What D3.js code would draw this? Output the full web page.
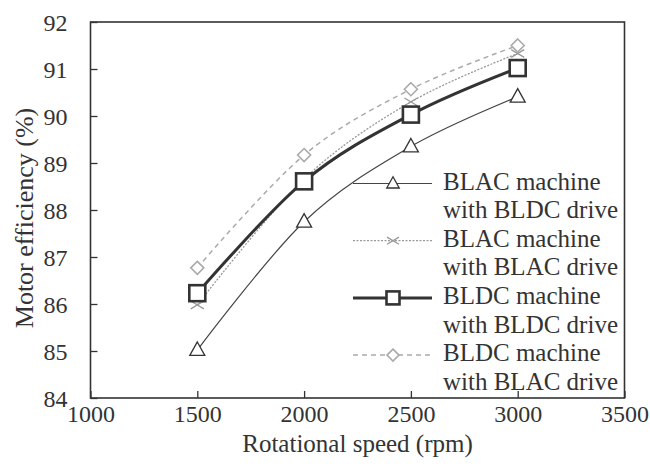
<!DOCTYPE html>
<html>
<head>
<meta charset="utf-8">
<script src="https://cdn.jsdelivr.net/npm/d3@7/dist/d3.min.js"></script>
<style>
  html, body { margin: 0; padding: 0; background: #fff; }
  svg { display: block; }
  text { font-family: "Liberation Serif", "Times New Roman", serif; fill: #333; }
</style>
</head>
<body>
<svg id="chart" width="650" height="466"></svg>
<script>
// Rotational speed (rpm) at which efficiency was measured
const speeds = [1500, 2000, 2500, 3000];

// Motor efficiency (%) for each machine / drive combination
const blacBldc = [85.02, 87.75, 89.35, 90.41];
const blacBlac = [85.98, 88.66, 90.30, 91.33];
const bldcBldc = [86.23, 88.61, 90.03, 91.02];
const bldcBlac = [86.77, 89.17, 90.57, 91.50];

// Axis ticks
const xTicks = [1000, 1500, 2000, 2500, 3000, 3500];
const yTicks = [84, 85, 86, 87, 88, 89, 90, 91, 92];

// Legend labels (two lines each)
const legendLabels = [
  ["BLAC machine", "with BLDC drive"],
  ["BLAC machine", "with BLAC drive"],
  ["BLDC machine", "with BLDC drive"],
  ["BLDC machine", "with BLAC drive"]
];

const series = [
  { values: blacBldc, marker: "triangle", line: "#444", lw: 1.2, dash: null,  mk: "#333", mw: 1.3, size: 15, lsize: 12.5 },
  { values: blacBlac, marker: "cross",    line: "#999", lw: 1.3, dash: "2,1.5", mk: "#999", mw: 1.3, size: 13, lsize: 12 },
  { values: bldcBldc, marker: "square",   line: "#333", lw: 3, dash: null,  mk: "#333", mw: 2.6, size: 16, lsize: 13 },
  { values: bldcBlac, marker: "diamond",  line: "#aaa", lw: 1.5, dash: "5,4", mk: "#aaa", mw: 1.6, size: 13, lsize: 12 }
];

const svg = d3.select("#chart");
const plotLeft = 90.5, plotRight = 624.5, plotTop = 22, plotBottom = 398;

const x = d3.scaleLinear().domain([1000, 3500]).range([plotLeft, plotRight]);
const y = d3.scaleLinear().domain([84, 92]).range([plotBottom, plotTop]);

// Axes with inward ticks
const xAxis = d3.axisBottom(x).tickValues(xTicks).tickSize(-7).tickPadding(7).tickFormat(d3.format("d"));
const yAxis = d3.axisLeft(y).tickValues(yTicks).tickSize(-7).tickPadding(30).tickFormat(d3.format("d"));

const gx = svg.append("g").attr("transform", `translate(0,${plotBottom})`).call(xAxis);
const gy = svg.append("g").attr("transform", `translate(${plotLeft},0)`).call(yAxis);
[gx, gy].forEach(g => {
  g.select(".domain").remove();
  g.selectAll(".tick line").attr("stroke", "#333").attr("stroke-width", 1.3);
  g.selectAll(".tick text").style("font-size", "24px").attr("fill", "#333");
});
gy.selectAll(".tick text").attr("dy", "0.34em").attr("x", -23);

// Plot frame
svg.append("rect")
  .attr("x", plotLeft).attr("y", plotTop)
  .attr("width", plotRight - plotLeft).attr("height", plotBottom - plotTop)
  .attr("fill", "none").attr("stroke", "#333").attr("stroke-width", 1.6);

// Axis titles
svg.append("text")
  .attr("x", (plotLeft + plotRight) / 2).attr("y", 452)
  .attr("text-anchor", "middle").style("font-size", "25px")
  .text("Rotational speed (rpm)");
svg.append("text")
  .attr("transform", `translate(33,218) rotate(-90)`)
  .attr("text-anchor", "middle").style("font-size", "26px")
  .text("Motor efficiency (%)");

function drawMarker(g, type, cx, cy, s, color, w) {
  const h = s / 2;
  if (type === "triangle") {
    const ht = s * 0.9;
    g.append("path")
      .attr("d", `M${cx},${cy - ht * 0.6} L${cx + h},${cy + ht * 0.4} L${cx - h},${cy + ht * 0.4} Z`)
      .attr("fill", "#fff").attr("stroke", color).attr("stroke-width", w);
  } else if (type === "square") {
    g.append("rect")
      .attr("x", cx - h).attr("y", cy - h).attr("width", s).attr("height", s)
      .attr("fill", "#fff").attr("stroke", color).attr("stroke-width", w);
  } else if (type === "diamond") {
    g.append("path")
      .attr("d", `M${cx},${cy - h} L${cx + h},${cy} L${cx},${cy + h} L${cx - h},${cy} Z`)
      .attr("fill", "#fff").attr("stroke", color).attr("stroke-width", w);
  } else if (type === "cross") {
    g.append("path")
      .attr("d", `M${cx - h},${cy - h * 0.6} L${cx + h},${cy + h * 0.6} M${cx - h},${cy + h * 0.6} L${cx + h},${cy - h * 0.6}`)
      .attr("fill", "none").attr("stroke", color).attr("stroke-width", w);
  }
}

const line = d3.line()
  .x((d, i) => x(speeds[i]))
  .y(d => y(d))
  .curve(d3.curveCatmullRom.alpha(0));

const plot = svg.append("g");
series.forEach(s => {
  const g = plot.append("g");
  g.append("path")
    .attr("d", line(s.values))
    .attr("fill", "none")
    .attr("stroke", s.line)
    .attr("stroke-width", s.lw)
    .attr("stroke-dasharray", s.dash);
  s.values.forEach((v, i) => drawMarker(g, s.marker, x(speeds[i]), y(v), s.size, s.mk, s.mw));
});

// Legend
const legend = svg.append("g");
const legendTop = 183.5, itemStep = 57.2, lineStep = 28.7;
series.forEach((s, i) => {
  const ly = legendTop + i * itemStep;
  legend.append("line")
    .attr("x1", 353).attr("x2", 432).attr("y1", ly).attr("y2", ly)
    .attr("stroke", s.line).attr("stroke-width", s.lw)
    .attr("stroke-dasharray", s.dash);
  drawMarker(legend, s.marker, 393, ly, s.lsize, s.mk, s.mw);
  legendLabels[i].forEach((t, j) => {
    legend.append("text")
      .attr("x", 443).attr("y", ly + 6 + j * lineStep)
      .style("font-size", "25px")
      .text(t);
  });
});
</script>
</body>
</html>
